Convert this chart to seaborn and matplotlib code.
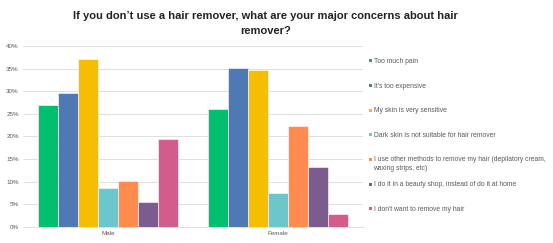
import matplotlib
matplotlib.use("Agg")
import matplotlib.pyplot as plt
import seaborn as sns
import pandas as pd

categories = ["Male", "Female"]
concerns = [
    "Too much pain",
    "It's too expensive",
    "My skin is very sensitive",
    "Dark skin is not suitable for hair remover",
    "I use other methods to remove my hair (depilatory cream,\nwaxing strips, etc)",
    "I do it in a beauty shop, instead of do it at home",
    "I don't want to remove my hair",
]
male_values = [27.0, 29.6, 37.1, 8.7, 10.1, 5.6, 19.4]
female_values = [26.1, 35.2, 34.7, 7.4, 22.3, 13.3, 2.8]
colors = ["#00BF6F", "#4E79B4", "#F6BE00", "#6CC7CB", "#FF8B4F", "#7C5C8E", "#D35C8C"]

rows = []
for c, v in zip(concerns, male_values):
    rows.append({"gender": "Male", "concern": c, "value": v})
for c, v in zip(concerns, female_values):
    rows.append({"gender": "Female", "concern": c, "value": v})
df = pd.DataFrame(rows)

sns.set_style("white")
plt.rcParams["font.family"] = ["Liberation Sans", "DejaVu Sans"]

W, H = 553, 243
fig = plt.figure(figsize=(W / 100, H / 100), dpi=100)
ax = fig.add_axes([0.0416, 0.066, 0.6146, 0.745])

sns.barplot(data=df, x="gender", y="value", hue="concern", order=categories,
            hue_order=concerns, palette=colors, saturation=1, width=0.82, ax=ax,
            edgecolor="white", linewidth=0.4, legend=False, errorbar=None)

ax.set_ylim(0, 40)
ax.set_xlim(-0.5, 1.5)
ax.set_yticks(range(0, 41, 5))
ax.set_yticklabels([f"{t}%" for t in range(0, 41, 5)], fontsize=4.5, color="#595959")
ax.tick_params(axis="y", length=0, pad=3)
ax.set_xticks([0, 1])
ax.set_xticklabels(categories, fontsize=4.5, color="#595959")
ax.set_xticks([-0.5, 0.5, 1.5], minor=True)
ax.tick_params(axis="x", which="major", length=0, pad=3)
ax.tick_params(axis="x", which="minor", length=3, color="#D9D9D9", width=0.6)
ax.set_xlabel("")
ax.set_ylabel("")
ax.yaxis.grid(True, color="#D9D9D9", linewidth=0.6)
ax.set_axisbelow(True)
for s in ["top", "right", "left"]:
    ax.spines[s].set_visible(False)
ax.spines["bottom"].set_color("#D9D9D9")
ax.spines["bottom"].set_linewidth(0.6)

# legend drawn manually (pixel layout)
y0, step = 61, 24.6
for i, (lab, col) in enumerate(zip(concerns, colors)):
    yp = y0 + i * step
    fig.patches.append(plt.Rectangle(((370 - 1.5) / W, 1 - (yp + 1.5) / H), 3 / W, 3 / H,
                                     transform=fig.transFigure, facecolor=col,
                                     edgecolor="none"))
    fig.text(373.5 / W, 1 - (yp - 3.1) / H, lab, ha="left", va="top", fontsize=4.9,
             color="#595959", linespacing=1.25)

fig.text(0.48, 0.903, "If you don\u2019t use a hair remover, what are your major concerns about hair\nremover?",
         ha="center", va="center", fontsize=8.0, fontweight="bold", color="#222222",
         linespacing=1.65)

fig.savefig("out.png", dpi=100, facecolor="white")
